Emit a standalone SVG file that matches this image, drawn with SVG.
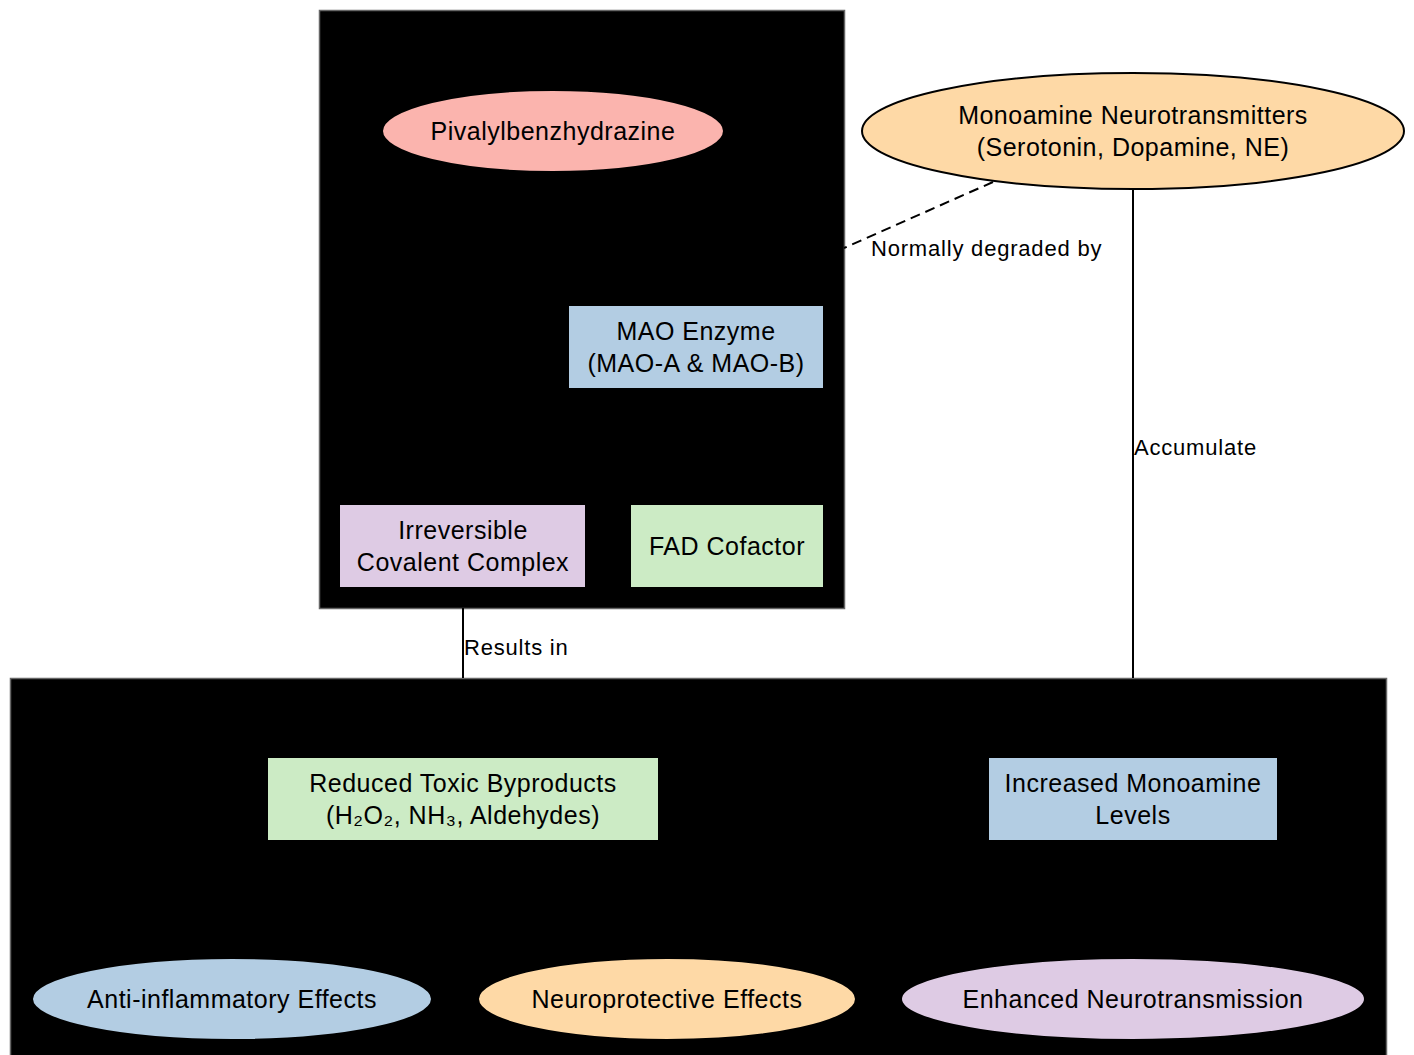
<svg xmlns="http://www.w3.org/2000/svg" width="1414" height="1055" viewBox="0 0 1414 1055">
<style>
.cluster{fill:#000;stroke:#666;stroke-width:1.5}
.node text,.lbl{font-family:"Liberation Sans",Arial,sans-serif;fill:#000}
.node text{font-size:25px;letter-spacing:0.5px;text-anchor:middle}
.lbl{font-size:22px;letter-spacing:0.8px}
.e{stroke:#000;stroke-width:2}
.edge{stroke:#000;stroke-width:2;fill:none}
</style>
<rect width="1414" height="1055" fill="#fff"/>
<g id="clusters">
<rect id="cluster_top" class="cluster" x="319.5" y="10.5" width="525" height="598"/>
<rect id="cluster_bottom" class="cluster" x="10.5" y="678.5" width="1376" height="380"/>
</g>
<g id="edges">
<path class="edge" d="M993,182 L844,248" stroke-dasharray="10,6"/>
<path class="edge" d="M463,608 L463,678"/>
<path class="edge" d="M1133,190 L1133,678"/>
<text class="lbl" x="871" y="256">Normally degraded by</text>
<text class="lbl" x="464" y="655">Results in</text>
<text class="lbl" x="1134" y="455">Accumulate</text>
</g>
<g id="pivalyl" class="node"><ellipse class="e" cx="553" cy="131" rx="171" ry="41" fill="#fbb4ae"/><text x="553" y="140">Pivalylbenzhydrazine</text></g>
<g id="mao" class="node"><rect x="569" y="306" width="254" height="82" fill="#b3cde3"/><text x="696" y="340">MAO Enzyme</text><text x="696" y="372">(MAO-A &amp; MAO-B)</text></g>
<g id="complex" class="node"><rect x="340" y="505" width="245" height="82" fill="#decbe4"/><text x="463" y="539">Irreversible</text><text x="463" y="571">Covalent Complex</text></g>
<g id="fad" class="node"><rect x="631" y="505" width="192" height="82" fill="#ccebc5"/><text x="727" y="555">FAD Cofactor</text></g>
<g id="monoamine" class="node"><ellipse class="e" cx="1133" cy="131" rx="271" ry="58" fill="#fed9a6"/><text x="1133" y="124">Monoamine Neurotransmitters</text><text x="1133" y="156">(Serotonin, Dopamine, NE)</text></g>
<g id="toxic" class="node"><rect x="268" y="758" width="390" height="82" fill="#ccebc5"/><text x="463" y="792">Reduced Toxic Byproducts</text><text x="463" y="824">(H₂O₂, NH₃, Aldehydes)</text></g>
<g id="levels" class="node"><rect x="989" y="758" width="288" height="82" fill="#b3cde3"/><text x="1133" y="792">Increased Monoamine</text><text x="1133" y="824">Levels</text></g>
<g id="antiinfl" class="node"><ellipse class="e" cx="232" cy="999" rx="200" ry="41" fill="#b3cde3"/><text x="232" y="1008">Anti-inflammatory Effects</text></g>
<g id="neuroprot" class="node"><ellipse class="e" cx="667" cy="999" rx="189" ry="41" fill="#fed9a6"/><text x="667" y="1008">Neuroprotective Effects</text></g>
<g id="enhanced" class="node"><ellipse class="e" cx="1133" cy="999" rx="232" ry="41" fill="#decbe4"/><text x="1133" y="1008">Enhanced Neurotransmission</text></g>
</svg>
